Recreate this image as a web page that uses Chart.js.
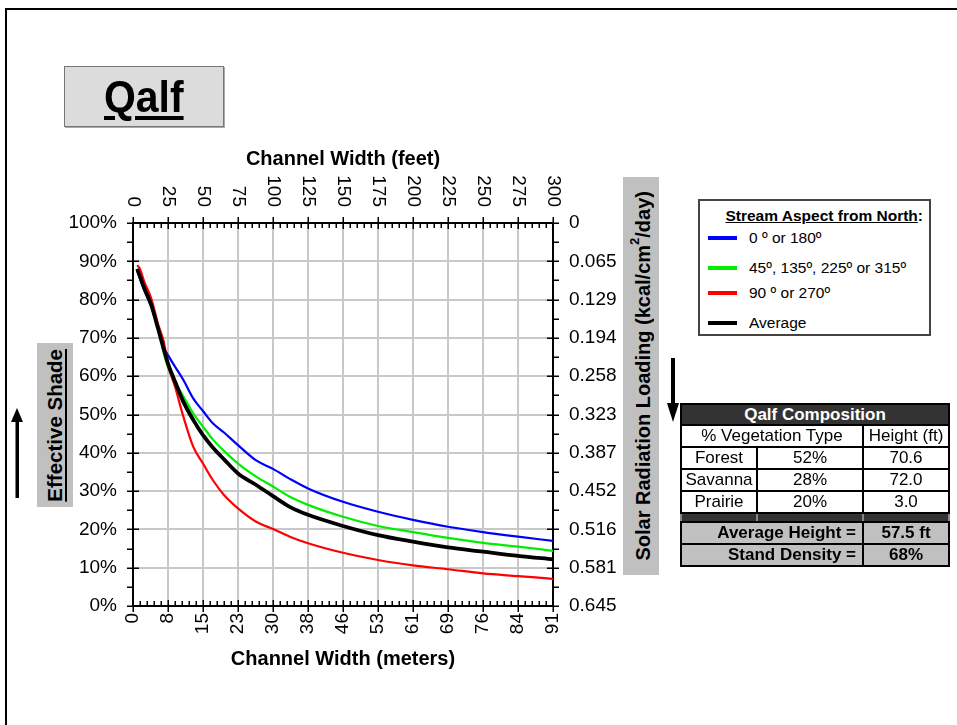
<!DOCTYPE html>
<html><head><meta charset="utf-8">
<script src="https://cdn.jsdelivr.net/npm/chart.js@4.4.0/dist/chart.umd.min.js"></script>
<style>
html,body{margin:0;padding:0;background:#fff;}
body{width:957px;height:725px;position:relative;overflow:hidden;font-family:"Liberation Sans",Arial,sans-serif;color:#000;}
#frame{position:absolute;left:5px;top:8px;width:980px;height:760px;border-left:2px solid #000;border-top:2px solid #000;}
#chart{position:absolute;left:0;top:0;}
#titlebox{position:absolute;left:64px;top:66px;width:158px;height:59px;background:#dcdcdc;border:1px solid #777;box-shadow:1px 1px 0 #aaa;text-align:center;overflow:hidden;}
#titlebox span{font-weight:bold;font-size:44px;text-decoration:underline;text-decoration-thickness:4px;text-underline-offset:4px;display:inline-block;transform:scaleX(0.93);line-height:59px;}
.vbox{position:absolute;background:#c0c0c0;display:flex;align-items:center;justify-content:center;}
.vbox span{writing-mode:vertical-rl;transform:rotate(180deg);font-weight:bold;white-space:nowrap;}
#lt{left:37px;top:343px;width:36px;height:164px;}
#lt span{font-size:20.5px;text-decoration:underline;}
#rt{left:623px;top:177px;width:36px;height:398px;}
#rt span{font-size:20px;}
#rt sup{font-size:13px;}
svg.arrow{position:absolute;}
#legend{position:absolute;left:698px;top:199px;width:233px;height:137px;box-sizing:border-box;border:2px solid #444;background:#fff;}
#legend .lt{position:absolute;right:6px;top:6px;font-weight:bold;font-size:15.5px;}
#legend .lt u{text-decoration:underline;}
#legend .it{position:absolute;left:8px;height:20px;font-size:15.5px;line-height:20px;white-space:nowrap;}
#legend .sw{display:inline-block;width:29px;height:4px;vertical-align:middle;margin-right:12px;position:relative;top:-1px;}
#comp{position:absolute;left:680px;top:403px;width:268px;border-collapse:collapse;font-size:17px;table-layout:fixed;}
#comp tr{height:22px;}
#comp td{border:2px solid #000;padding:0;text-align:center;line-height:18px;white-space:nowrap;overflow:hidden;}
#comp tr.hd{height:21px;}
#comp tr.hd td{background:#333;color:#fff;font-weight:bold;}
#comp tr.bar{height:9px;}
#comp tr.bar td{background:#333;line-height:5px;font-size:1px;border-left:2px solid #888;border-right:2px solid #888;}
#comp tr.tot td{background:#c0c0c0;font-weight:bold;}
</style></head>
<body>
<div id="frame"></div>
<canvas id="chart" width="957" height="725"></canvas>
<div id="titlebox"><span>Qalf</span></div>
<div class="vbox" id="lt"><span>Effective Shade</span></div>
<div class="vbox" id="rt"><span>Solar Radiation Loading (kcal/cm<sup>2</sup>/day)</span></div>
<svg class="arrow" style="left:10px;top:405px" width="16" height="96"><polygon points="7,3 1,17 13,17" fill="#000"/><rect x="5.5" y="15" width="3.5" height="78" fill="#000"/></svg>
<svg class="arrow" style="left:665px;top:355px" width="16" height="72"><rect x="6" y="3" width="4" height="50" fill="#000"/><polygon points="2,48 14,48 8,67" fill="#000"/></svg>
<div id="legend"></div>
<table id="comp"><colgroup><col style="width:76px"><col style="width:106px"><col style="width:86px"></colgroup><tbody id="compBody"></tbody></table>
<script>
// ---- data ----
const widthFeet = [3, 5, 8, 13, 18, 22, 25, 30, 36, 43, 50, 57, 65, 75, 88, 100, 112, 125, 150, 175, 200, 225, 250, 275, 300];
const shadeNorthSouth = [87.5, 85.5, 82.5, 78.3, 72.5, 67.5, 65.5, 62.5, 59.0, 54.2, 50.9, 47.7, 45.3, 42.0, 38.0, 35.8, 33.2, 30.7, 27.2, 24.6, 22.5, 20.7, 19.3, 18.1, 17.0];
const shadeDiagonal = [88.0, 86.0, 83.0, 78.5, 72.9, 66.0, 62.3, 58.6, 54.7, 50.3, 46.8, 43.5, 40.5, 37.2, 33.8, 31.2, 28.5, 26.4, 23.3, 20.9, 19.3, 17.8, 16.5, 15.5, 14.4];
const shadeEastWest = [89.0, 88.0, 84.7, 80.3, 73.5, 69.0, 63.0, 57.3, 49.4, 41.6, 37.2, 32.9, 29.0, 25.5, 22.0, 20.1, 18.1, 16.4, 13.9, 12.0, 10.6, 9.6, 8.5, 7.8, 7.1];
const shadeAverage = [88.0, 86.0, 83.0, 78.6, 72.3, 67.0, 63.3, 58.6, 53.3, 48.6, 44.6, 41.4, 38.3, 34.6, 31.6, 28.7, 25.9, 23.8, 20.9, 18.5, 16.8, 15.3, 14.2, 13.1, 12.2];
const seriesLabels = ['0 º or 180º', '45º, 135º, 225º or 315º', '90 º or 270º', 'Average'];
const feetTicks = ['0','25','50','75','100','125','150','175','200','225','250','275','300'];
const meterTicks = ['0','8','15','23','30','38','46','53','61','69','76','84','91'];
const shadeTicks = ['0%','10%','20%','30%','40%','50%','60%','70%','80%','90%','100%'];
const radiationTicks = ['0.645','0.581','0.516','0.452','0.387','0.323','0.258','0.194','0.129','0.065','0'];
const vegTypes = ['Forest','Savanna','Prairie'];
const vegPercent = ['52%','28%','20%'];
const vegHeight = ['70.6','72.0','3.0'];
const summaryLabels = ['Average Height =','Stand Density ='];
const summaryValues = ['57.5 ft','68%'];

const colors = ['#0000ff', '#00ee00', '#ff0000', '#000000'];
const widths = [2.2, 2.2, 2.2, 3.8];
const FAM = '"Liberation Sans", Arial, sans-serif';

// table
const tb = document.getElementById('compBody');
let html = '<tr class="hd"><td colspan="3">Qalf Composition</td></tr>';
html += '<tr><td colspan="2">% Vegetation Type</td><td>Height (ft)</td></tr>';
vegTypes.forEach((t,i)=>{ html += '<tr><td>'+t+'</td><td>'+vegPercent[i]+'</td><td>'+vegHeight[i]+'</td></tr>'; });
html += '<tr class="bar"><td></td><td></td><td></td></tr>';
summaryLabels.forEach((t,i)=>{ html += '<tr class="tot"><td colspan="2" style="text-align:right;padding-right:6px">'+t+'</td><td>'+summaryValues[i]+'</td></tr>'; });
tb.innerHTML = html;

// legend
const lg = document.getElementById('legend');
let lh = '<div class="lt"><u>Stream Aspect from North</u>:</div>';
const ly = [37, 67, 92, 122];
seriesLabels.forEach((t,i)=>{ lh += '<div class="it" style="top:'+(ly[i]-10)+'px"><span class="sw" style="background:'+colors[i]+'"></span>'+t+'</div>'; });
lg.innerHTML = lh;

const pts = arr => widthFeet.map((x,i)=>({x:x, y:arr[i]}));
const series = [shadeNorthSouth, shadeDiagonal, shadeEastWest, shadeAverage];

const tickPlugin = {
  id:'ticksAndTop',
  afterDraw(chart){
    const {ctx, chartArea:a, scales} = chart;
    const x = scales.x, x2 = scales.x2, y = scales.y;
    ctx.save();
    ctx.strokeStyle = '#000'; ctx.lineWidth = 1.5;
    for (let v = 0; v <= 300; v += 5) {
      const px = Math.round(x.getPixelForValue(v)) + 0.25;
      ctx.beginPath();
      if (v % 25 === 0) {
        ctx.moveTo(px, a.top - 6); ctx.lineTo(px, a.top + 6);
        ctx.moveTo(px, a.bottom - 6); ctx.lineTo(px, a.bottom + 6);
      } else {
        ctx.moveTo(px, a.top); ctx.lineTo(px, a.top + 5);
        ctx.moveTo(px, a.bottom); ctx.lineTo(px, a.bottom - 5);
      }
      ctx.stroke();
    }
    for (let v = 0; v <= 100; v += 5) {
      const py = Math.round(y.getPixelForValue(v)) + 0.25;
      ctx.beginPath();
      if (v % 10 === 0) {
        ctx.moveTo(a.left - 6, py); ctx.lineTo(a.left + 6, py);
        ctx.moveTo(a.right - 6, py); ctx.lineTo(a.right + 6, py);
      } else {
        ctx.moveTo(a.left - 6, py); ctx.lineTo(a.left, py);
        ctx.moveTo(a.right, py); ctx.lineTo(a.right + 6, py);
      }
      ctx.stroke();
    }
    ctx.fillStyle = '#000';
    ctx.font = '19px ' + FAM;
    ctx.textAlign = 'right'; ctx.textBaseline = 'middle';
    feetTicks.forEach((t,i)=>{
      const px = x2.getPixelForValue(i*25);
      ctx.save(); ctx.translate(px, a.top - 16); ctx.rotate(Math.PI/2); ctx.fillText(t, 0, 0); ctx.restore();
    });
    ctx.restore();
  }
};

const tickFont = {size:19, family:FAM};
const titleFont = {size:20, weight:'bold', family:FAM};
const border = {display:true, color:'#000', width:2};

new Chart(document.getElementById('chart'), {
  type:'line',
  data:{datasets: series.map((s,i)=>({
    label: seriesLabels[i], data: pts(s), borderColor: colors[i], backgroundColor: colors[i],
    borderWidth: widths[i], order: i === 3 ? 0 : 3 - i, pointRadius:0, fill:false,
    cubicInterpolationMode:'monotone'
  }))},
  options:{
    responsive:false, animation:false, devicePixelRatio:1,
    layout:{padding:{left:0, right:332, top:140, bottom:50}},
    plugins:{legend:{display:false}, tooltip:{enabled:false}},
    scales:{
      x:{type:'linear', position:'bottom', min:0, max:300,
         ticks:{stepSize:25, autoSkip:false, minRotation:90, maxRotation:90, padding:7, color:'#000', font:tickFont,
                callback:v=>meterTicks[Math.round(v/25)]},
         grid:{color:'#c8c8c8', lineWidth:2, drawTicks:false}, border:border,
         title:{display:true, text:'Channel Width (meters)', color:'#000', font:titleFont, padding:{top:0, bottom:4}},
         afterFit:s=>{s.height = 69;}},
      x2:{type:'linear', position:'top', min:0, max:300,
         ticks:{display:false, stepSize:25},
         grid:{display:false, drawTicks:false}, border:border,
         title:{display:true, text:'Channel Width (feet)', color:'#000', font:titleFont, padding:{top:7, bottom:0}},
         afterFit:s=>{s.height = 83;}},
      y:{type:'linear', position:'left', min:0, max:100,
         ticks:{stepSize:10, padding:16, color:'#000', font:tickFont, callback:v=>shadeTicks[Math.round(v/10)]},
         grid:{color:'#c8c8c8', lineWidth:2, drawTicks:false}, border:border,
         afterFit:s=>{s.width = 133;}},
      y2:{type:'linear', position:'right', min:0, max:100,
         ticks:{stepSize:10, padding:16, color:'#000', font:tickFont, callback:v=>radiationTicks[Math.round(v/10)]},
         grid:{display:false, drawTicks:false}, border:border,
         afterFit:s=>{s.width = 72;}}
    }
  },
  plugins:[tickPlugin]
});
</script>
</body></html>
